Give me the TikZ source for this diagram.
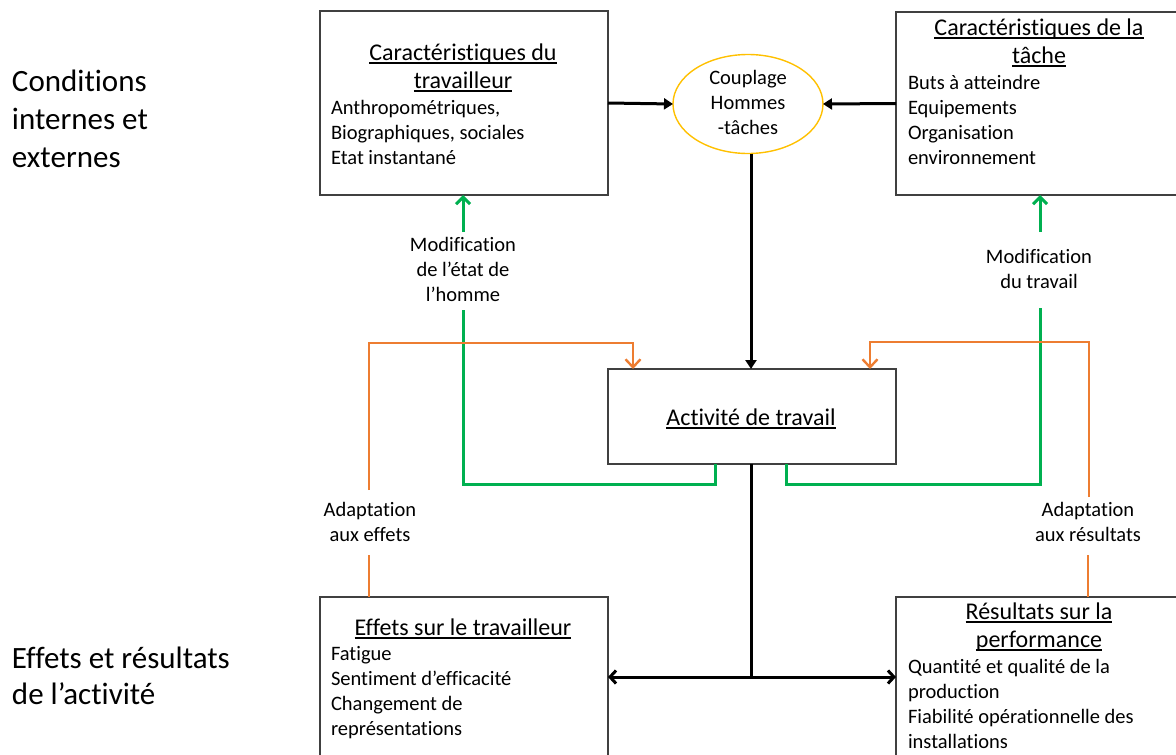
\documentclass[tikz,border=0pt]{standalone}
\usepackage{fontspec}
\setmainfont{Carlito}[Ligatures={NoCommon,NoRequired,NoContextual}]
\usetikzlibrary{arrows.meta,shapes.geometric}
\definecolor{cgreen}{HTML}{00B050}
\definecolor{corange}{HTML}{ED7D31}
\definecolor{cgold}{HTML}{FFC000}
\definecolor{cbox}{HTML}{404040}
\newcommand{\myul}[1]{\setbox0\hbox{#1}\rlap{\rule[-3.5pt]{\wd0}{1.3pt}}\box0}
\tikzset{
  every node/.style={inner sep=0pt, outer sep=0pt, font=\fontsize{20.5pt}{25pt}\selectfont},
  boxnode/.style={draw=cbox, line width=1.4pt, rectangle, fill=none},
  ellnode/.style={draw=cgold, line width=1.4pt, ellipse},
  tl/.style={anchor=base west},
  tc/.style={anchor=base},
  ttl/.style={anchor=base, font=\fontsize{24pt}{28pt}\selectfont},
  big/.style={anchor=base west, font=\fontsize{31pt}{37pt}\selectfont},
  blk/.style={line width=3pt, draw=black},
  blkarrow/.style={blk, -{Triangle[length=9pt,width=11pt]}},
  blkopen/.style={blk, {Straight Barb[length=6pt,width=13pt,line width=3pt]}-{Straight Barb[length=6pt,width=13pt,line width=3pt]}},
  grn/.style={line width=3pt, draw=cgreen},
  grnarrow/.style={grn, -{Straight Barb[length=7pt,width=14pt,line width=3pt]}},
  org/.style={line width=2.4pt, draw=corange},
  orgarrow/.style={org, -{Straight Barb[length=8pt,width=15pt,line width=2.4pt]}},
}
\begin{document}
\begin{tikzpicture}[x=1pt,y=1pt]
\useasboundingbox (0,0) rectangle (1176,-755);
\clip (0,0) rectangle (1176,-755);

% boxes
\node[boxnode, minimum width=288pt, minimum height=184pt] (tl) at (464,-103) {};
\node[boxnode, minimum width=286pt, minimum height=183pt] (tr) at (1039,-103.5) {};
\node[boxnode, minimum width=288pt, minimum height=95pt] (act) at (752,-416.5) {};
\node[boxnode, minimum width=288pt, minimum height=170pt] (bl) at (464,-682) {};
\node[boxnode, minimum width=286pt, minimum height=170pt] (br) at (1039,-682) {};
\node[ellnode, minimum width=150pt, minimum height=99pt] (ell) at (748,-104) {};

% left labels
\node[big] (c1) at (12,-91) {Conditions};
\node[big] (c2) at (12,-129) {internes et};
\node[big] (c3) at (12,-167) {externes};
\node[big] (e1) at (12,-668) {Effets et résultats};
\node[big] (e2) at (12,-704) {de l’activité};

% TL text
\node[ttl] (tlt1) at (463,-60) {\myul{Caractéristiques du}};
\node[ttl] (tlt2) at (463,-88) {\myul{travailleur}};
\node[tl] (tl1) at (331,-114) {Anthropométriques,};
\node[tl] (tl2) at (331,-139) {Biographiques, sociales};
\node[tl] (tl3) at (331,-164) {Etat instantané};

% TR text
\node[ttl] (trt1) at (1039,-35) {\myul{Caractéristiques de la}};
\node[ttl] (trt2) at (1039,-63) {\myul{tâche}};
\node[tl] (tr1) at (908,-89) {Buts à atteindre};
\node[tl] (tr2) at (908,-114) {Equipements};
\node[tl] (tr3) at (908,-139) {Organisation};
\node[tl] (tr4) at (908,-164) {environnement};

% ellipse text
\node[tc] (el1) at (748,-84) {Couplage};
\node[tc] (el2) at (748,-109) {Hommes};
\node[tc] (el3) at (748,-134) {-tâches};

% activity text
\node[ttl] (actt) at (751,-425) {\myul{Activité de travail}};

% BL text
\node[ttl] (blt) at (463,-635) {\myul{Effets sur le travailleur}};
\node[tl] (bl1) at (331,-660) {Fatigue};
\node[tl] (bl2) at (331,-685) {Sentiment d’efficacité};
\node[tl] (bl3) at (331,-710) {Changement de};
\node[tl] (bl4) at (331,-735) {représentations};

% BR text
\node[ttl] (brt1) at (1039,-619) {\myul{Résultats sur la}};
\node[ttl] (brt2) at (1039,-647) {\myul{performance}};
\node[tl] (br1) at (908,-673) {Quantité et qualité de la};
\node[tl] (br2) at (908,-698) {production};
\node[tl] (br3) at (908,-723) {Fiabilité opérationnelle des};
\node[tl] (br4) at (908,-748) {installations};

% connector labels
\node[tc] (m1) at (463,-251) {Modification};
\node[tc] (m2) at (463,-276) {de l’état de};
\node[tc] (m3) at (463,-301) {l’homme};
\node[tc] (mr1) at (1039,-263) {Modification};
\node[tc] (mr2) at (1039,-288) {du travail};
\node[tc] (a1) at (370,-516) {Adaptation};
\node[tc] (a2) at (370,-541) {aux effets};
\node[tc] (ar1) at (1088,-516) {Adaptation};
\node[tc] (ar2) at (1088,-541) {aux résultats};

% coordinates
\coordinate (j) at (751,-677);
\coordinate (gl) at (463,-310);
\coordinate (gla) at (463,-232);
\coordinate (gr) at (1040,-308);
\coordinate (gra) at (1040,-232);
\coordinate (ol) at (369,-490);
\coordinate (olt) at (369,-343);
\coordinate (olb) at (369,-555);
\coordinate (or) at (1089,-497);
\coordinate (ort) at (1089,-342);
\coordinate (orb) at (1088,-555);

% black connectors
\draw[blkarrow] (tl.east) -- (ell.west);
\draw[blkarrow] (tr.west) -- (ell.east);
\draw[blkarrow] ([xshift=3pt]ell.south) -- ([xshift=3pt]ell.south |- act.north);
\draw[blk] ([xshift=-1pt]act.south) -- ([xshift=-1pt]act.south |- j);
\draw[blkopen] (bl.east |- j) -- (br.west |- j);

% green connectors
\draw[grn] ([xshift=-37pt]act.south) -- ++(0,-20) -| (gl);
\draw[grnarrow] (gla) -- (gla |- tl.south);
\draw[grn] ([xshift=34pt]act.south) -- ++(0,-20) -| (gr);
\draw[grnarrow] (gra) -- (gra |- tr.south);

% orange connectors
\draw[orgarrow] (ol) -- (olt) -| ([xshift=-119pt]act.north);
\draw[org] (olb) -- (olb |- bl.north);
\draw[orgarrow] (or) -- (ort) -| ([xshift=118pt]act.north);
\draw[org] (orb) -- (orb |- br.north);
\end{tikzpicture}
\end{document}
